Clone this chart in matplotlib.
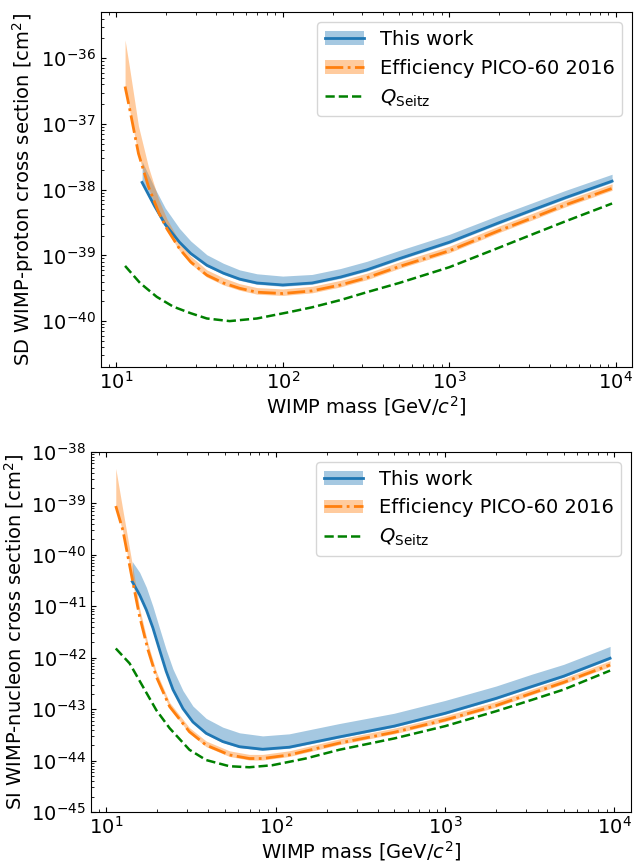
import numpy as np
import matplotlib
matplotlib.use("Agg")
import matplotlib.pyplot as plt

# values, cross sections as log10(sigma / cm^2)

# SD, this work
sd_work_m = [14.3, 17, 19.7, 24, 28, 35, 44, 55, 70, 100, 150, 222, 320, 500,
             1000, 2000, 3230, 5000, 9500]
sd_work = [-37.89, -38.25, -38.53, -38.80, -38.97, -39.15, -39.27, -39.36, -39.42,
           -39.45, -39.42, -39.33, -39.22, -39.05, -38.80, -38.50, -38.30, -38.12, -37.87]
sd_work_hi = [-37.57, -37.97, -38.28, -38.59, -38.78, -38.99, -39.12, -39.22, -39.28,
              -39.315, -39.29, -39.20, -39.09, -38.925, -38.68, -38.385, -38.19, -38.01, -37.765]
sd_work_lo = [-37.91, -38.27, -38.55, -38.82, -38.99, -39.17, -39.29, -39.38, -39.44,
              -39.47, -39.44, -39.35, -39.24, -39.07, -38.82, -38.52, -38.32, -38.14, -37.89]

# SD, efficiency PICO-60 2016
sd_eff_m = [11.3, 12, 13.6, 15.6, 18, 20.2, 24, 28, 35, 44, 55, 70, 100, 150, 222,
            320, 500, 1000, 2000, 3230, 5000, 9500]
sd_eff = [-36.43, -36.75, -37.45, -37.95, -38.35, -38.60, -38.90, -39.10, -39.30,
          -39.42, -39.50, -39.56, -39.58, -39.54, -39.45, -39.34, -39.17, -38.93,
          -38.62, -38.42, -38.23, -37.98]
sd_eff_hi = [-35.72, -36.13, -37.03, -37.65, -38.15, -38.45, -38.79, -39.01, -39.22,
             -39.34, -39.43, -39.49, -39.51, -39.47, -39.38, -39.27, -39.10, -38.86,
             -38.55, -38.35, -38.16, -37.91]
sd_eff_lo = [-36.46, -36.78, -37.48, -37.98, -38.38, -38.63, -38.93, -39.13, -39.33,
             -39.45, -39.53, -39.59, -39.61, -39.57, -39.48, -39.37, -39.20, -38.96,
             -38.65, -38.45, -38.26, -38.01]

# SD, Q_Seitz
sd_seitz_m = [11.3, 13.9, 17.5, 22, 28, 35, 48, 70, 111, 150, 222, 320, 500, 1000,
              2000, 3230, 5000, 9500]
sd_seitz = [-39.16, -39.42, -39.63, -39.78, -39.88, -39.96, -40.0, -39.96, -39.86,
            -39.79, -39.68, -39.56, -39.42, -39.18, -38.88, -38.67, -38.48, -38.21]

# SI, this work
si_work_m = [14.2, 15.7, 17.2, 18.8, 20.6, 22.5, 24.7, 28.3, 32.4, 38.8, 48.6, 61,
             83.6, 120, 237, 500, 1000, 2000, 3250, 5000, 9420]
si_work = [-40.52, -40.78, -41.07, -41.42, -41.85, -42.26, -42.62, -42.99, -43.25,
           -43.47, -43.63, -43.73, -43.78, -43.74, -43.54, -43.33, -43.08, -42.79,
           -42.56, -42.36, -42.01]
si_work_hi = [-40.13, -40.34, -40.63, -41.00, -41.43, -41.84, -42.22, -42.64, -42.94,
              -43.18, -43.35, -43.46, -43.52, -43.48, -43.28, -43.08, -42.83, -42.55,
              -42.32, -42.13, -41.78]
si_work_lo = [-40.54, -40.80, -41.09, -41.44, -41.87, -42.28, -42.64, -43.01, -43.27,
              -43.49, -43.65, -43.75, -43.80, -43.76, -43.56, -43.35, -43.10, -42.81,
              -42.58, -42.38, -42.03]

# SI, efficiency PICO-60 2016
si_eff_m = [11.35, 12.5, 14.35, 15.7, 17.6, 19.7, 23.6, 30.9, 38.8, 53.2, 69.8, 83.6,
            120, 237, 500, 1000, 2000, 3250, 5000, 9420]
si_eff = [-39.05, -39.52, -40.55, -41.20, -41.85, -42.37, -42.95, -43.44, -43.70,
          -43.89, -43.96, -43.96, -43.89, -43.66, -43.45, -43.21, -42.93, -42.69,
          -42.48, -42.14]
si_eff_hi = [-38.32, -39.13, -40.27, -41.04, -41.73, -42.27, -42.87, -43.36, -43.62,
             -43.81, -43.88, -43.88, -43.81, -43.58, -43.37, -43.13, -42.85, -42.61,
             -42.40, -42.06]
si_eff_lo = [-39.08, -39.55, -40.58, -41.23, -41.88, -42.40, -42.98, -43.47, -43.73,
             -43.92, -43.99, -43.99, -43.92, -43.69, -43.48, -43.24, -42.96, -42.72,
             -42.51, -42.17]

# SI, Q_Seitz
si_seitz_m = [11.35, 13.7, 16.4, 19.7, 23.6, 30.9, 38.8, 53.2, 69.8, 95.5, 150, 237,
              500, 1000, 2000, 3250, 5000, 9420]
si_seitz = [-41.82, -42.11, -42.56, -43.02, -43.37, -43.79, -43.99, -44.11, -44.13,
            -44.09, -43.96, -43.79, -43.57, -43.33, -43.04, -42.82, -42.62, -42.25]

# decade ticks shown on each y axis
sd_yticks = [1e-40, 1e-39, 1e-38, 1e-37, 1e-36]
si_yticks = [1e-45, 1e-44, 1e-43, 1e-42, 1e-41, 1e-40, 1e-39, 1e-38]

labels = ["This work", "Efficiency PICO-60 2016", r"$Q_{\rm Seitz}$"]
ylabels = [r"SD WIMP-proton cross section [cm$^2$]",
           r"SI WIMP-nucleon cross section [cm$^2$]"]

plt.rcParams["font.size"] = 14

fig = plt.figure(figsize=(6.42, 8.63), dpi=100)
ax1 = fig.add_axes([0.1573, 0.5747, 0.827, 0.411])
ax2 = fig.add_axes([0.1417, 0.0591, 0.841, 0.4171])


def p(v):
    return 10 ** np.array(v)


def draw(ax, work, eff, seitz, ylabel, ylim, yticks):
    wm, w, whi, wlo = work
    em, e, ehi, elo = eff
    sm, s = seitz
    b1 = ax.fill_between(wm, p(wlo), p(whi), color="C0", alpha=0.4, lw=0)
    l1, = ax.plot(wm, p(w), color="C0", lw=2)
    b2 = ax.fill_between(em, p(elo), p(ehi), color="C1", alpha=0.4, lw=0)
    l2, = ax.plot(em, p(e), color="C1", lw=2, ls="-.")
    l3, = ax.plot(sm, p(s), color="green", lw=1.8, ls="--")
    ax.set_xscale("log")
    ax.set_yscale("log")
    ax.set_xlim(8.1, 12500)
    ax.set_ylim(*ylim)
    ax.set_yticks(yticks)
    ax.tick_params(which="both", direction="in", top=True, right=False, labelsize=14)
    ax.tick_params(axis="x", pad=2.5)
    ax.set_xlabel(r"WIMP mass [GeV/$c^2$]", fontsize=14, labelpad=1.5)
    ax.set_ylabel(ylabel, fontsize=14)
    ax.legend([(b1, l1), (b2, l2), l3], labels, loc="upper right", fontsize=14)


draw(ax1, (sd_work_m, sd_work, sd_work_hi, sd_work_lo),
     (sd_eff_m, sd_eff, sd_eff_hi, sd_eff_lo),
     (sd_seitz_m, sd_seitz), ylabels[0], (2e-41, 5e-36), sd_yticks)
draw(ax2, (si_work_m, si_work, si_work_hi, si_work_lo),
     (si_eff_m, si_eff, si_eff_hi, si_eff_lo),
     (si_seitz_m, si_seitz), ylabels[1], (1e-45, 1e-38), si_yticks)

fig.savefig("out.png", dpi=100)
